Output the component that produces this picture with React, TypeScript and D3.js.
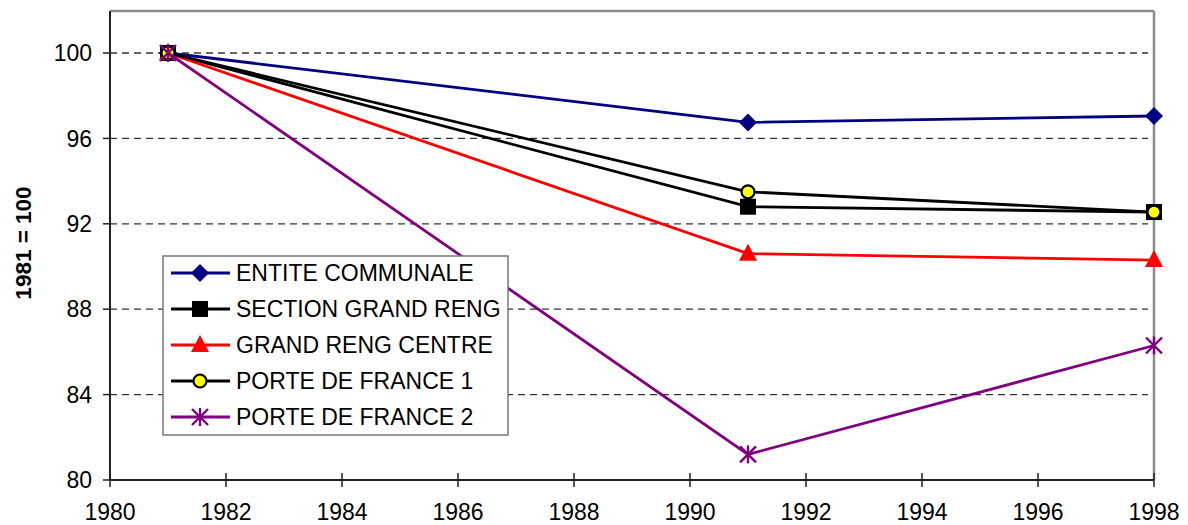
import React from 'react';
import * as d3 from 'd3';

// data (index, 1981 = 100)
const years = [1981, 1991, 1998];
const entiteCommunale = [100, 96.75, 97.05];
const sectionGrandReng = [100, 92.8, 92.55];
const grandRengCentre = [100, 90.6, 90.3];
const porteDeFrance1 = [100, 93.5, 92.55];
const porteDeFrance2 = [100, 81.2, 86.3];

const xTicks = [1980, 1982, 1984, 1986, 1988, 1990, 1992, 1994, 1996, 1998];
const yTicks = [80, 84, 88, 92, 96, 100];
const gridTicks = [84, 88, 92, 96, 100];

const series = [
    { name: 'ENTITE COMMUNALE', values: entiteCommunale, color: '#000080', marker: 'diamond' },
    { name: 'SECTION GRAND RENG', values: sectionGrandReng, color: '#000000', marker: 'square' },
    { name: 'GRAND RENG CENTRE', values: grandRengCentre, color: '#FF0000', marker: 'triangle' },
    { name: 'PORTE DE FRANCE 1', values: porteDeFrance1, color: '#000000', marker: 'circle' },
    { name: 'PORTE DE FRANCE 2', values: porteDeFrance2, color: '#800080', marker: 'star' },
];

const FONT = '"Liberation Sans", Arial, sans-serif';

function Marker({ type, color, x, y }: { type: string; color: string; x: number; y: number }) {
    if (type === 'diamond') {
        return <path d={`M${x},${y - 9}L${x + 9},${y}L${x},${y + 9}L${x - 9},${y}Z`} fill={color} />;
    }
    if (type === 'square') {
        return <rect x={x - 8} y={y - 8} width={16} height={16} fill="#000" />;
    }
    if (type === 'triangle') {
        return <path d={`M${x},${y - 10}L${x + 9},${y + 7}L${x - 9},${y + 7}Z`} fill={color} />;
    }
    if (type === 'circle') {
        return <circle cx={x} cy={y} r={6.5} fill="#FFFF00" stroke="#000" strokeWidth={2.2} />;
    }
    // star: X plus vertical bar
    return (
        <g stroke={color} strokeWidth={2.4}>
            <line x1={x - 8} y1={y - 8} x2={x + 8} y2={y + 8} />
            <line x1={x - 8} y1={y + 8} x2={x + 8} y2={y - 8} />
            <line x1={x} y1={y - 9} x2={x} y2={y + 9} />
        </g>
    );
}

export default function App() {
    const width = 1188;
    const height = 525;
    const left = 110, right = 1154, top = 11, bottom = 480;

    const x = d3.scaleLinear().domain([1980, 1998]).range([left, right]);
    const y = d3.scaleLinear().domain([80, 100]).range([bottom, 53]);

    const line = d3.line<number>()
        .x((d, i) => x(years[i]))
        .y((d) => y(d));

    // legend layout
    const legX = 163, legY = 256, legW = 345, legH = 179;
    const rowY = (i: number) => 273 + i * 36;

    return (
        <svg width={width} height={height}
            style={{ position: 'absolute', left: 0, top: 0, background: '#fff' }}
            fontFamily={FONT}>
            <rect x={0} y={0} width={width} height={height} fill="#fff" />

            {/* grid */}
            {gridTicks.map((t) => (
                <line key={t} x1={left} x2={right - 6} y1={y(t)} y2={y(t)}
                    stroke="#333" strokeWidth={1.3} strokeDasharray="7,5" />
            ))}

            {/* plot border (top/right in grey) */}
            <line x1={left} x2={right} y1={top} y2={top} stroke="#8c8c8c" strokeWidth={2.5} />
            <line x1={right} x2={right} y1={top} y2={bottom} stroke="#8c8c8c" strokeWidth={2.5} />

            {/* axes */}
            <line x1={left} x2={left} y1={top} y2={bottom} stroke="#222" strokeWidth={2} />
            <line x1={left} x2={right} y1={bottom} y2={bottom} stroke="#222" strokeWidth={2} />

            {yTicks.map((t) => (
                <g key={t}>
                    <line x1={left - 7} x2={left} y1={y(t)} y2={y(t)} stroke="#222" strokeWidth={1.5} />
                    <text x={left - 18} y={y(t)} dy="0.36em" textAnchor="end" fontSize={23}>{t}</text>
                </g>
            ))}

            {xTicks.map((t) => (
                <g key={t}>
                    <line x1={x(t)} x2={x(t)} y1={bottom - 7} y2={bottom + 7} stroke="#222" strokeWidth={1.5} />
                    <text x={x(t)} y={520} textAnchor="middle" fontSize={23}>{t}</text>
                </g>
            ))}

            <text transform="translate(31,243) rotate(-90)" textAnchor="middle"
                fontSize={22.5} fontWeight="bold">1981 = 100</text>

            {/* series */}
            {series.map((s) => (
                <g key={s.name}>
                    <path d={line(s.values) || ''} fill="none" stroke={s.color} strokeWidth={2.8} />
                    {s.values.map((v, i) => (
                        <Marker key={i} type={s.marker} color={s.color} x={x(years[i])} y={y(v)} />
                    ))}
                </g>
            ))}

            {/* legend */}
            <rect x={legX} y={legY} width={legW} height={legH} fill="#fff" stroke="#777" strokeWidth={1.5} />
            {series.map((s, i) => (
                <g key={s.name}>
                    <line x1={171} x2={230} y1={rowY(i)} y2={rowY(i)} stroke={s.color} strokeWidth={2.8} />
                    <Marker type={s.marker} color={s.color} x={200} y={rowY(i)} />
                    <text x={236} y={rowY(i)} dy="0.36em" fontSize={23}>{s.name}</text>
                </g>
            ))}
        </svg>
    );
}
